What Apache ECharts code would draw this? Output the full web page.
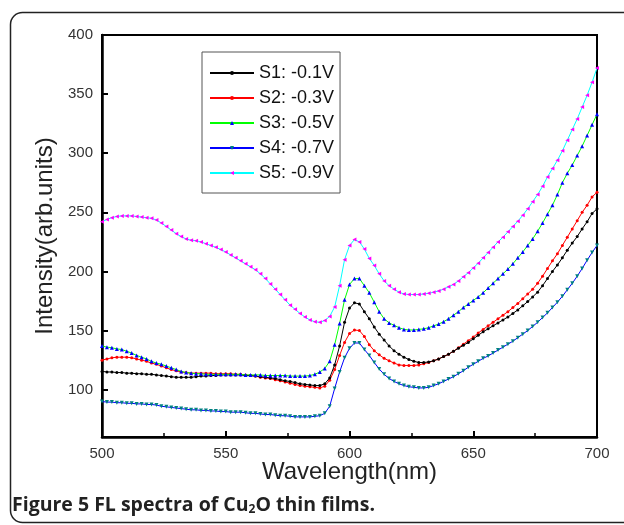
<!DOCTYPE html>
<html>
<head>
<meta charset="utf-8">
<script src="https://cdn.jsdelivr.net/npm/echarts@6/dist/echarts.min.js"></script>
<style>
html,body{margin:0;padding:0;background:#fff;}
#chart{width:624px;height:525px;}
</style>
</head>
<body>
<div id="chart"></div>
<script>
const wavelength = [500,502,504,506,508,510,512,514,516,518,520,522,524,526,528,530,532,534,536,538,540,542,544,546,548,550,552,554,556,558,560,562,564,566,568,570,572,574,576,578,580,582,584,586,588,590,592,594,596,598,600,602,604,606,608,610,612,614,616,618,620,622,624,626,628,630,632,634,636,638,640,642,644,646,648,650,652,654,656,658,660,662,664,666,668,670,672,674,676,678,680,682,684,686,688,690,692,694,696,698,700];

const seriesNames = ['S1: -0.1V','S2: -0.3V','S3: -0.5V','S4: -0.7V','S5: -0.9V'];

const s1 = [115.5,115,115,114.5,114.5,114,114,113.5,113.5,113,113,112.5,112,111.5,111,110.5,110.5,110.5,110.5,111,111.5,111.5,112,112,112.5,112.5,112.5,112.5,112.5,112,112,111.5,111,110.5,110,109.5,108.5,107.5,107,106,105,104.5,104,103.5,103.5,105,110,121,137,157,169,173.5,172.5,166,160,153,147,142,137,133,130,127.5,125.5,124,123,123,123.5,124.5,126,128,130,132.5,135,137.5,140,143,146,149,151.5,154,156.5,159,161.5,164.5,167.5,171,174.5,178.5,182.5,188,194,200,205.5,211.5,218,224,229.5,236,242,249,253];

const s2 = [125,126,127,127.5,127.5,127.5,127,126,125,124,122.5,121.5,120,118.5,117,116,115,114.5,114,114,114,114,114,113.5,113.5,113.5,113.5,113,113,112.5,112,111.5,110.5,110,109.5,108.5,107.5,106.5,105.5,104.5,103.5,103,102.5,102,101.5,103,108,117,129,140,147.5,150.5,150,145,138,133,129.5,126.5,124.5,122.5,121,120.5,120.5,120.5,121,122,123,124.5,126,128,130,132.5,135.5,138.5,141.5,144.5,148,151,154,157,160,163,166,169.5,173,177,181,185,190,196,202.5,209,215,222,229,236,243,250,256,263,267];

const s3 = [137,136,135.5,134.5,134,132.5,131,129,127.5,126,124,122.5,121.5,120,118.5,117,115.5,114.5,114,113.5,113.5,113,113,113,113,113,113,113,113,112.5,112.5,112.5,112.5,112,112,112,112,112,111.5,111.5,111.5,111.5,112,113,115,118,124,138,156,176,189,194,194,188,182,174,166,160,156.5,154.5,152.5,151,150.5,150.5,151,151.5,152.5,154,155.5,157.5,160,163,166,169.5,172.5,175.5,178.5,182,186,190,194,198,202,206.5,211.5,216.5,222,227.5,234,241,248.5,256,265,275,283,290,298,306,315,324,333];

const s4 = [90,89.5,89.5,89,89,88.5,88.5,88,88,87.5,87.5,87,86,85.5,85,84.5,84,83.5,83,83,82.5,82.5,82,82,81.5,81.5,81,81,81,80.5,80,80,79.5,79,79,78.5,78,78,77.5,77,77,77,77,77.5,78,80,86,101,115,127,135,139.5,139.5,134,129,123,117.5,113,109.5,107,105,103.5,102.5,102,101.5,101.5,102,103.5,105,107,109,111,113.5,116,119,121.5,124,126.5,128.5,131,133.5,136,138.5,141,144,147,150,153.5,157,161,165,169.5,174,179,184.5,190,196,202.5,209.5,216,222];

const s5 = [242,244,245.5,246.5,247,247,247,246.5,246,245.5,245,243.5,241,238,235,232,229.5,227.5,226.5,226,225,223.5,222,220.5,218.5,216.5,214,211.5,209,206.5,204,201.5,198,194,189.5,185,180.5,176,171.5,168,164.5,161.5,159,157.5,157,158.5,162,170,188,210,222,227,225,219,211,205,198,192,188,185,182.5,181,180.5,180.5,180.5,181,181.5,182.5,183.5,185,187,189,192,195.5,199,203,207,211.5,216,220.5,225,229,233.5,238,242.5,247.5,253,259,265,272,280,287,294,302,311,320,329,339,349,360,372];

const yTicks = [100,150,200,250,300,350,400];

function pairs(arr){ return wavelength.map((w,i)=>[w,arr[i]]); }

const styles = [
  {line:'#000000', mark:'#000000', symbol:'circle', size:3, rot:0},
  {line:'#ff0000', mark:'#ff0000', symbol:'circle', size:3, rot:0},
  {line:'#00ff00', mark:'#0000ff', symbol:'triangle', size:4, rot:0},
  {line:'#0000ff', mark:'#008080', symbol:'triangle', size:4, rot:180},
  {line:'#00ffff', mark:'#ff00ff', symbol:'triangle', size:4, rot:90}
];
const allData = [s1,s2,s3,s4,s5];

const chart = echarts.init(document.getElementById('chart'), null, {renderer:'canvas'});
const font = 'Liberation Sans, Arial, sans-serif';

chart.setOption({
  animation:false,
  backgroundColor:'#fff',
  textStyle:{fontFamily:font},
  grid:{left:102, right:27, top:35, bottom:88, show:true, borderColor:'#000', borderWidth:2, backgroundColor:'transparent'},
  xAxis:{
    type:'value', min:500, max:700, interval:50,
    name:'Wavelength(nm)', nameLocation:'middle', nameGap:23, nameMoveOverlap:false,
    nameTextStyle:{fontSize:24, color:'#222', fontFamily:font},
    axisLine:{lineStyle:{color:'#000', width:2.5}},
    axisTick:{inside:true, length:6, lineStyle:{color:'#000', width:2}},
    minorTick:{show:true, splitNumber:2, length:4, lineStyle:{color:'#000', width:1.5}},
    axisLabel:{fontSize:15, color:'#333', margin:9, fontFamily:font},
    splitLine:{show:false}
  },
  yAxis:{
    type:'value', min:60, max:400,
    name:'Intensity(arb.units)', nameLocation:'middle', nameGap:45, nameMoveOverlap:false,
    nameTextStyle:{fontSize:24, color:'#222', fontFamily:font},
    axisLine:{show:true, lineStyle:{color:'#000', width:2.5}},
    axisTick:{show:true, inside:true, length:6, lineStyle:{color:'#000', width:2}, customValues:yTicks},
    axisLabel:{fontSize:15, color:'#333', margin:9, fontFamily:font, customValues:yTicks},
    splitLine:{show:false}
  },
  legend:{
    orient:'vertical', left:202, top:52,
    backgroundColor:'#fff',
    borderColor:'#555', borderWidth:1,
    padding:[12,6,11,7],
    itemWidth:44, itemHeight:5, itemGap:7,
    textStyle:{fontSize:18, color:'#111', fontFamily:font},
    data:seriesNames
  },
  series: allData.map((d,i)=>({
    name:seriesNames[i], type:'line', data:pairs(d),
    symbol:styles[i].symbol, symbolSize:styles[i].size, symbolRotate:styles[i].rot,
    showSymbol:true,
    lineStyle:{color:styles[i].line, width:1},
    itemStyle:{color:styles[i].mark},
    z: [4,3,5,2,6][i]
  })),
  graphic:[
    {type:'rect', shape:{x:10.5, y:12.5, width:700, height:510, r:12}, style:{fill:'none', stroke:'#222', lineWidth:1.5}, silent:true, z:-1},
    {type:'text', left:12, top:495, style:{
      rich:{
        a:{fontSize:19.5, fontWeight:'bold', fontFamily:'Open Sans, Noto Sans, sans-serif', fill:'#222'},
        s:{fontSize:12, fontWeight:'bold', fontFamily:'Open Sans, Noto Sans, sans-serif', fill:'#222', verticalAlign:'bottom', padding:[9,0,0,0]}
      },
      text:'{a|Figure 5 FL spectra of Cu}{s|2}{a|O thin films.}'
    }}
  ]
});
</script>
</body>
</html>
